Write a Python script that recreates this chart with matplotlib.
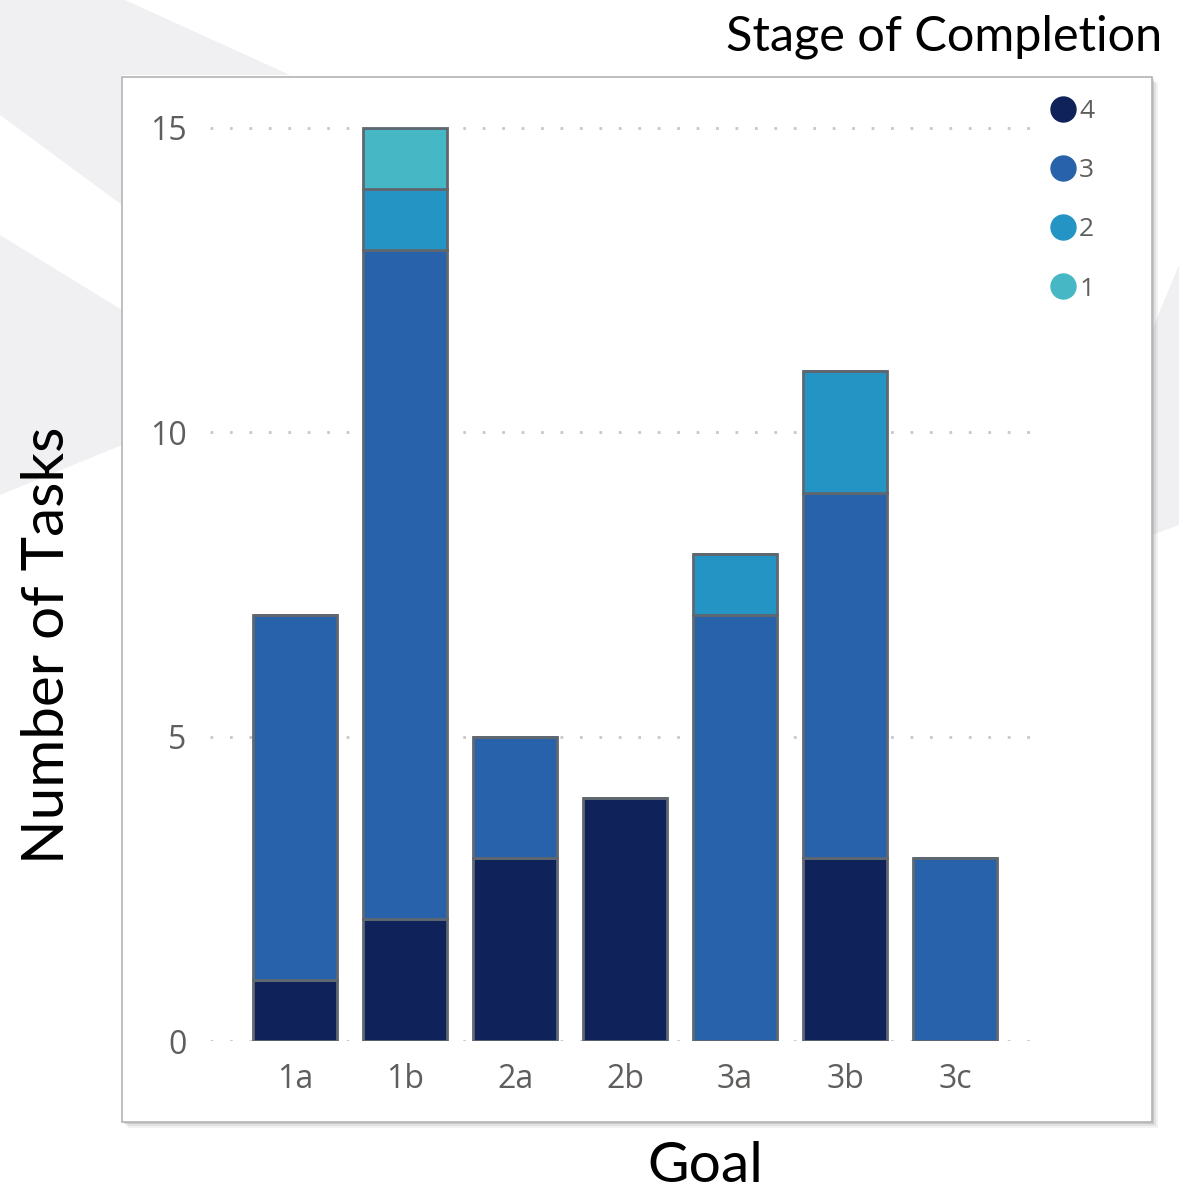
import matplotlib
matplotlib.use("Agg")
import matplotlib.pyplot as plt
from matplotlib.patches import Rectangle, Polygon
from matplotlib.lines import Line2D
import numpy as np

# Task counts per goal, split by stage of completion
goals = ["1a", "1b", "2a", "2b", "3a", "3b", "3c"]
stage4 = [1, 2, 3, 4, 0, 3, 0]
stage3 = [6, 11, 2, 0, 7, 6, 3]
stage2 = [0, 1, 0, 0, 1, 2, 0]
stage1 = [0, 1, 0, 0, 0, 0, 0]
stage_labels = ["4", "3", "2", "1"]
stage_colors = ["#0F2259", "#2762AA", "#2394C4", "#46B8C5"]
yticks = [0, 5, 10, 15]

W, H = 1179, 1202
fig = plt.figure(figsize=(W / 100, H / 100), dpi=100)
fig.patch.set_facecolor("white")


def fx(x):
    return x / W


def fy(y):
    return 1 - y / H


# faint decorative swooshes in the background
swoosh = "#F0F0F2"
for pts in [
    [(0, 0), (125, 0), (290, 75), (122, 75), (122, 205), (0, 115)],
    [(0, 235), (122, 310), (122, 445), (0, 495)],
    [(1152, 330), (1179, 265), (1179, 525), (1152, 535)],
]:
    fig.patches.append(Polygon([(fx(x), fy(y)) for x, y in pts], closed=True,
                               transform=fig.transFigure, facecolor=swoosh,
                               edgecolor="none", zorder=0))

# white panel with a soft shadow
for off, alpha in [(6, 0.10), (4, 0.15), (2, 0.25)]:
    fig.patches.append(Rectangle((fx(122 + off), fy(1122 + off)), fx(1030), 1045 / H,
                                 transform=fig.transFigure, facecolor="#808080",
                                 edgecolor="none", alpha=alpha, zorder=1))
fig.patches.append(Rectangle((fx(122), fy(1122)), fx(1030), 1045 / H,
                             transform=fig.transFigure, facecolor="white",
                             edgecolor="#B4B4B4", linewidth=1.2, zorder=2))

ax = fig.add_axes([fx(210), fy(1041), fx(1045 - 210), (1041 - 100) / H])
ax.set_zorder(3)
ax.patch.set_alpha(0)

x = np.arange(len(goals))
bottom = np.zeros(len(goals))
for vals, col in zip([stage4, stage3, stage2, stage1], stage_colors):
    v = np.array(vals, dtype=float)
    ax.bar(x, v, bottom=bottom, width=0.77, color=col, edgecolor="#5F6770",
           linewidth=2.0, zorder=3)
    bottom += v

ax.set_xlim(-0.773, 6.818)
ax.set_ylim(0, 15.46)
ax.set_yticks(yticks)
ax.set_yticklabels([str(t) for t in yticks])
ax.set_xticks(x)
ax.set_xticklabels(goals)
for s in ax.spines.values():
    s.set_visible(False)
ax.tick_params(axis="both", length=0, labelsize=23, labelcolor="#605E5C")
ax.tick_params(axis="y", pad=17)
ax.tick_params(axis="x", pad=16)
for lab in ax.get_xticklabels() + ax.get_yticklabels():
    lab.set_fontfamily("Open Sans")
ax.yaxis.grid(True, color="#C8C8C8", linestyle=(0, (1, 6)), linewidth=2)
ax.set_axisbelow(True)

handles = [Line2D([], [], marker="o", linestyle="", markersize=18,
                  markerfacecolor=c, markeredgecolor=c) for c in stage_colors]
leg = ax.legend(handles, stage_labels, loc="upper left",
                bbox_to_anchor=(fx(1029), fy(75)), bbox_transform=fig.transFigure,
                frameon=False, handlelength=0.8, handletextpad=0.2,
                labelspacing=1.3, prop={"family": "Open Sans", "size": 19})
for t in leg.get_texts():
    t.set_color("#605E5C")

fig.text(fx(1162), fy(37), "Stage of Completion", ha="right", va="center",
         fontsize=35, family="Lato", color="black")
fig.text(fx(48), fy(645), "Number of Tasks", ha="center", va="center",
         rotation=90, fontsize=42, family="Lato", color="black")
fig.text(fx(705), fy(1166), "Goal", ha="center", va="center",
         fontsize=41, family="Lato", color="black")

fig.savefig("out.png", dpi=100, facecolor="white")
